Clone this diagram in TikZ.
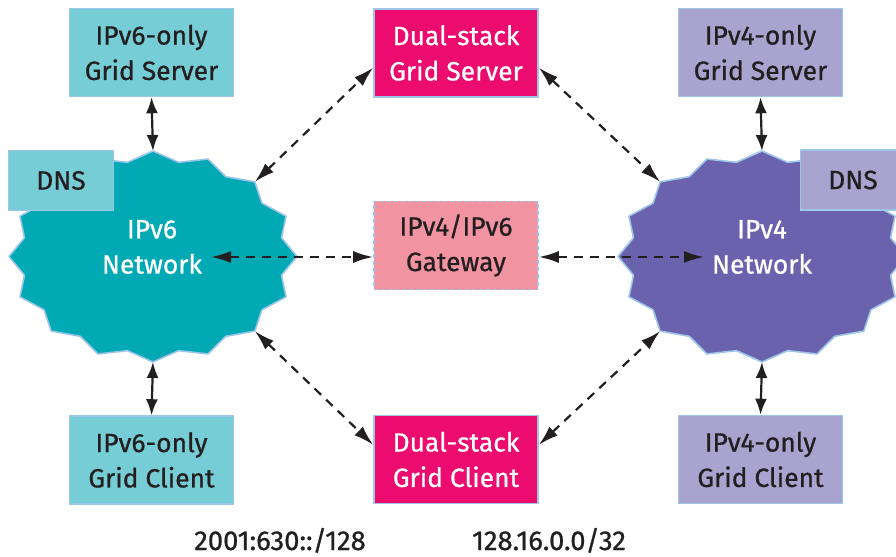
\documentclass[tikz,border=0pt]{standalone}
\usepackage{fontspec}
\setmainfont{Fira Sans}[FakeBold=0.8]
\usetikzlibrary{arrows.meta,calc}

\definecolor{edgeblue}{HTML}{9CC5E8}
\definecolor{sixbox}{HTML}{77CDD5}
\definecolor{sixnet}{HTML}{00A9B4}
\definecolor{fourbox}{HTML}{A8A3CF}
\definecolor{fournet}{HTML}{6A62AD}
\definecolor{dualbox}{HTML}{EC0B6E}
\definecolor{gatebox}{HTML}{F293A2}
\definecolor{ink}{HTML}{231F20}

% 16-point starburst standing in for a network cloud
\newcommand\netcloud[3]{%
  \filldraw[draw=edgeblue, line width=1.6bp, fill=#3, line join=round]
    plot[domain=0:31, samples=32, variable=\k]
      ({#1+144*(1-0.09*mod(round(\k),2))*cos(90-11.25*\k)},
       {#2-105.5*(1-0.09*mod(round(\k),2))*sin(90-11.25*\k)}) -- cycle;}

\begin{document}
\begin{tikzpicture}[x=1bp, y=-1bp,
  boxtext/.style={font=\fontsize{26.5}{35.5}\selectfont, align=center},
  hostbox/.style={boxtext, draw=edgeblue, line width=1.6bp, inner sep=0pt,
    minimum width=164bp, minimum height=88bp, text=ink},
  sixhost/.style={hostbox, fill=sixbox},
  fourhost/.style={hostbox, fill=fourbox},
  dualhost/.style={hostbox, fill=dualbox, text=white},
  gatehost/.style={hostbox, fill=gatebox, dashed, dash pattern=on 4bp off 3bp},
  dnsbox/.style={boxtext, draw=edgeblue, line width=1.6bp, inner sep=0pt,
    minimum width=105bp, minimum height=60bp, text=ink},
  nettext/.style={boxtext, text=white},
  link/.style={ink, line width=2.2bp, {Latex[length=16bp,width=12bp]}-{Latex[length=16bp,width=12bp]}},
  tunnel/.style={ink, line width=2.2bp, dash pattern=on 9bp off 7bp,
    {Latex[length=20bp,width=12bp]}-{Latex[length=20bp,width=12bp]}},
  addr/.style={font=\fontsize{27.5}{30}\selectfont, text=ink, anchor=base}
]
\useasboundingbox (0,0) rectangle (896,557);
\clip (0,0) rectangle (896,557);

% network clouds
\netcloud{153}{256.5}{sixnet}
\netcloud{762}{256.5}{fournet}

% points on the cloud outlines where links attach
\coordinate (n6top) at (153,151);
\coordinate (n6bot) at (153,362);
\coordinate (n6ne) at ({153+144*cos(45)},{256.5-105.5*sin(45)});
\coordinate (n6se) at ({153+144*cos(45)},{256.5+105.5*sin(45)});
\coordinate (n6in) at (211,257);
\coordinate (n4top) at (762,151);
\coordinate (n4bot) at (762,362);
\coordinate (n4nw) at ({762-144*cos(45)},{256.5-105.5*sin(45)});
\coordinate (n4sw) at ({762-144*cos(45)},{256.5+105.5*sin(45)});
\coordinate (n4in) at (704,257);

\node[nettext] (net6) at (152,247) {IPv6\\Network};
\node[nettext] (net4) at (762,247) {IPv4\\Network};

\node[dnsbox, fill=sixbox] (dns6) at (61,180.5) {DNS};
\node[dnsbox, fill=fourbox] (dns4) at (853,180) {DNS};

% hosts
\node[sixhost] (srv6) at (151.5,52.5) {IPv6-only\\Grid Server};
\node[dualhost] (srvd) at (456,53) {Dual-stack\\Grid Server};
\node[fourhost] (srv4) at (760.5,52.5) {IPv4-only\\Grid Server};
\node[gatehost] (gw) at (456,245.5) {IPv4/IPv6\\Gateway};
\node[sixhost] (cli6) at (151.5,460) {IPv6-only\\Grid Client};
\node[dualhost] (clid) at (456,459.5) {Dual-stack\\Grid Client};
\node[fourhost] (cli4) at (760.5,459.5) {IPv4-only\\Grid Client};

% native links
\draw[link] (srv6.south) -- (n6top);
\draw[link] (n6bot) -- (cli6.north);
\draw[link] (srv4.south) -- (n4top);
\draw[link] (n4bot) -- (cli4.north);

% dual-stack and gateway paths
\draw[tunnel] (n6ne) -- (srvd.190);
\draw[tunnel] (srvd.-10) -- (n4nw);
\draw[tunnel] (n6se) -- (clid.170);
\draw[tunnel] (clid.10) -- (n4sw);
\draw[tunnel] (n6in) -- (n6in -| gw.west);
\draw[tunnel] (n4in -| gw.east) -- (n4in);

% address prefixes
\node[addr] (pre6) at (280,550) {2001:630::/128};
\node[addr] (pre4) at (549,550) {128.16.0.0/32};
\end{tikzpicture}
\end{document}
